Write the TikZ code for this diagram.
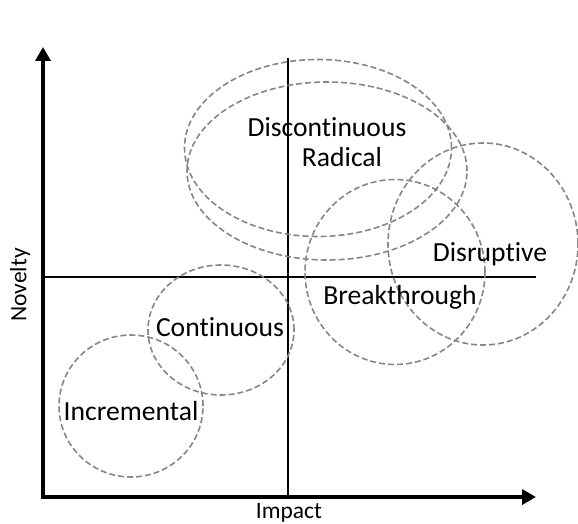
\documentclass[tikz,border=0pt]{standalone}
\usepackage{fontspec}
\setmainfont{Carlito}[Ligatures={NoCommon}]
\usetikzlibrary{arrows.meta,shapes.geometric}

\begin{document}
\begin{tikzpicture}[x=1pt,y=-1pt,
    zone/.style={draw=gray!95, line width=1.6pt, dash pattern=on 6pt off 3pt, ellipse, inner sep=0pt},
    lbl/.style={font=\fontsize{27.6}{32}\selectfont, inner sep=0pt},
    axlbl/.style={font=\fontsize{23.5}{27}\selectfont, inner sep=0pt},
    axis/.style={line width=4pt, -{Triangle[length=14pt,width=15pt]}}]
    \useasboundingbox (0,0) rectangle (578,524);
    % axes
    \coordinate (O) at (43,497);
    \coordinate (Ytop) at (43,47);
    \coordinate (Xend) at (536,497);
    \coordinate (Vtop) at (288,58);
    \coordinate (Vbot) at (288,497);
    \coordinate (Hleft) at (43,277);
    \coordinate (Hright) at (536,277);
    \draw[line width=1.8pt] (Vtop) -- (Vbot);
    \draw[line width=1.8pt] (Hleft) -- (Hright);
    \draw[axis] ([yshift=2pt]O) -- (Ytop);
    \draw[axis] ([xshift=-2pt]O) -- (Xend);
    % zones
    \node[zone, minimum width=267pt, minimum height=177pt] (Discont) at (318,148) {};
    \node[zone, minimum width=280pt, minimum height=178pt] (Radical) at (327,171) {};
    \node[zone, minimum width=190pt, minimum height=202pt] (Disrupt) at (483,244) {};
    \node[zone, minimum width=180pt, minimum height=185pt] (Break) at (395,272) {};
    \node[zone, minimum width=146pt, minimum height=130pt] (Cont) at (221,330) {};
    \node[zone, minimum width=144pt, minimum height=142pt] (Incr) at (131,406) {};
    % labels
    \node[lbl] (DiscontL) at (327,127) {Discontinuous};
    \node[lbl] (RadicalL) at (342,157) {Radical};
    \node[lbl] (DisruptL) at (490,254) {Disruptive};
    \node[lbl] (BreakL) at (400,297) {Breakthrough};
    \node[lbl] (ContL) at (220,327) {Continuous};
    \node[lbl] (IncrL) at (131,411) {Incremental};
    \node[axlbl, rotate=90] (NoveltyL) at (20,285) {Novelty};
    \node[axlbl] (ImpactL) at (289,513) {Impact};
\end{tikzpicture}
\end{document}
